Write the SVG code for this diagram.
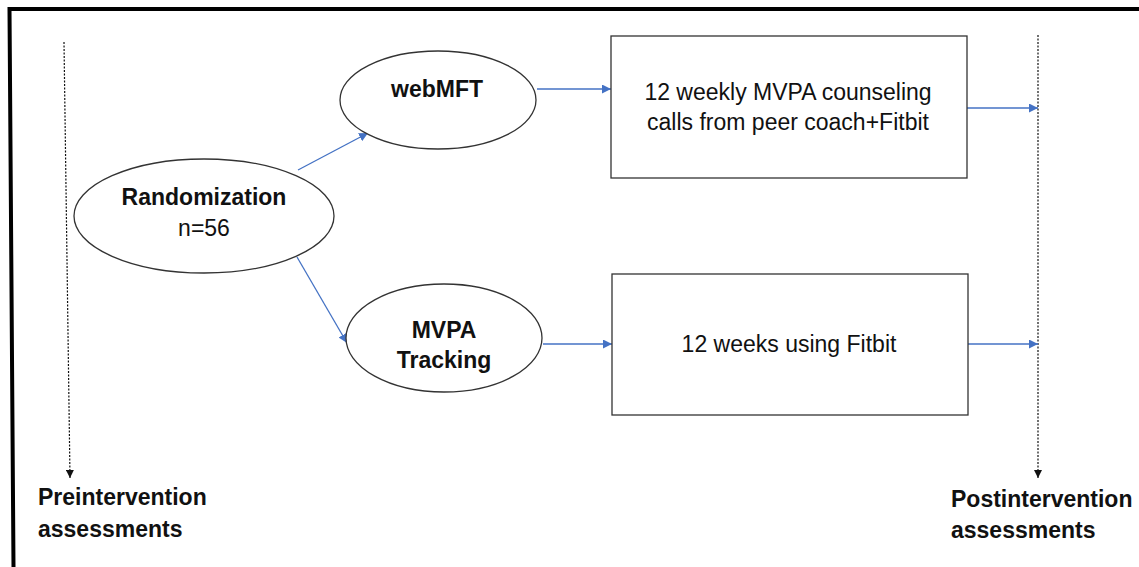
<svg xmlns="http://www.w3.org/2000/svg" width="1139" height="567" viewBox="0 0 1139 567">
<defs>
<style>
.node{fill:#fff;stroke:#333;stroke-width:1.3}
.b{font-family:"Liberation Sans",Arial,sans-serif;font-weight:bold;font-size:23px;fill:#111}
.r{font-family:"Liberation Sans",Arial,sans-serif;font-size:23px;fill:#111}
.conn{stroke:#4472C4;stroke-width:1.3;fill:none;marker-end:url(#ab)}
.dash{stroke:#111;stroke-width:1.2;stroke-dasharray:2 1.5;fill:none;marker-end:url(#ak)}
</style>
<marker id="ab" viewBox="0 0 10 10" refX="10" refY="5" markerWidth="9" markerHeight="9" markerUnits="userSpaceOnUse" orient="auto"><path d="M0,0 L10,5 L0,10 z" fill="#4472C4"/></marker>
<marker id="ak" viewBox="0 0 10 10" refX="10" refY="5" markerWidth="8" markerHeight="8" markerUnits="userSpaceOnUse" orient="auto"><path d="M0,0 L10,5 L0,10 z" fill="#111"/></marker>
</defs>
<rect width="1139" height="567" fill="#fff"/>
<g id="frame">
<path d="M1139,9 L9.5,9 L13.5,567" fill="none" stroke="#000" stroke-width="4"/>
</g>
<g id="connectors">
<path class="dash" d="M64,42 L70,478"/>
<path class="dash" d="M1038,35 L1038,478"/>
<path class="conn" d="M298,170 L368,133"/>
<path class="conn" d="M297,257 L347,343"/>
<path class="conn" d="M537,89 L611,89"/>
<path class="conn" d="M543,344 L612,344"/>
<path class="conn" d="M967,108 L1038,108"/>
<path class="conn" d="M968,344 L1038,344"/>
</g>
<g id="randomization">
<ellipse class="node" cx="204" cy="216" rx="130" ry="57"/>
<text class="b" x="204" y="205" text-anchor="middle">Randomization</text>
<text class="r" x="204" y="236" text-anchor="middle" font-size="22">n=56</text>
</g>
<g id="webmft">
<ellipse class="node" cx="438" cy="100" rx="98" ry="49"/>
<text class="b" x="437" y="97" text-anchor="middle">webMFT</text>
</g>
<g id="mvpa">
<ellipse class="node" cx="444" cy="338" rx="98" ry="54"/>
<text class="b" x="444" y="338" text-anchor="middle">MVPA</text>
<text class="b" x="444" y="368" text-anchor="middle">Tracking</text>
</g>
<g id="box1">
<rect class="node" x="611" y="36" width="356" height="142"/>
<text class="r" x="788" y="100" text-anchor="middle">12 weekly MVPA counseling</text>
<text class="r" x="788" y="130" text-anchor="middle">calls from peer coach+Fitbit</text>
</g>
<g id="box2">
<rect class="node" x="612" y="274" width="356" height="141"/>
<text class="r" x="789" y="352" text-anchor="middle">12 weeks using Fitbit</text>
</g>
<g id="pre">
<text class="b" x="38" y="505">Preintervention</text>
<text class="b" x="38" y="537">assessments</text>
</g>
<g id="post">
<text class="b" x="951" y="507">Postintervention</text>
<text class="b" x="951" y="538">assessments</text>
</g>
</svg>
